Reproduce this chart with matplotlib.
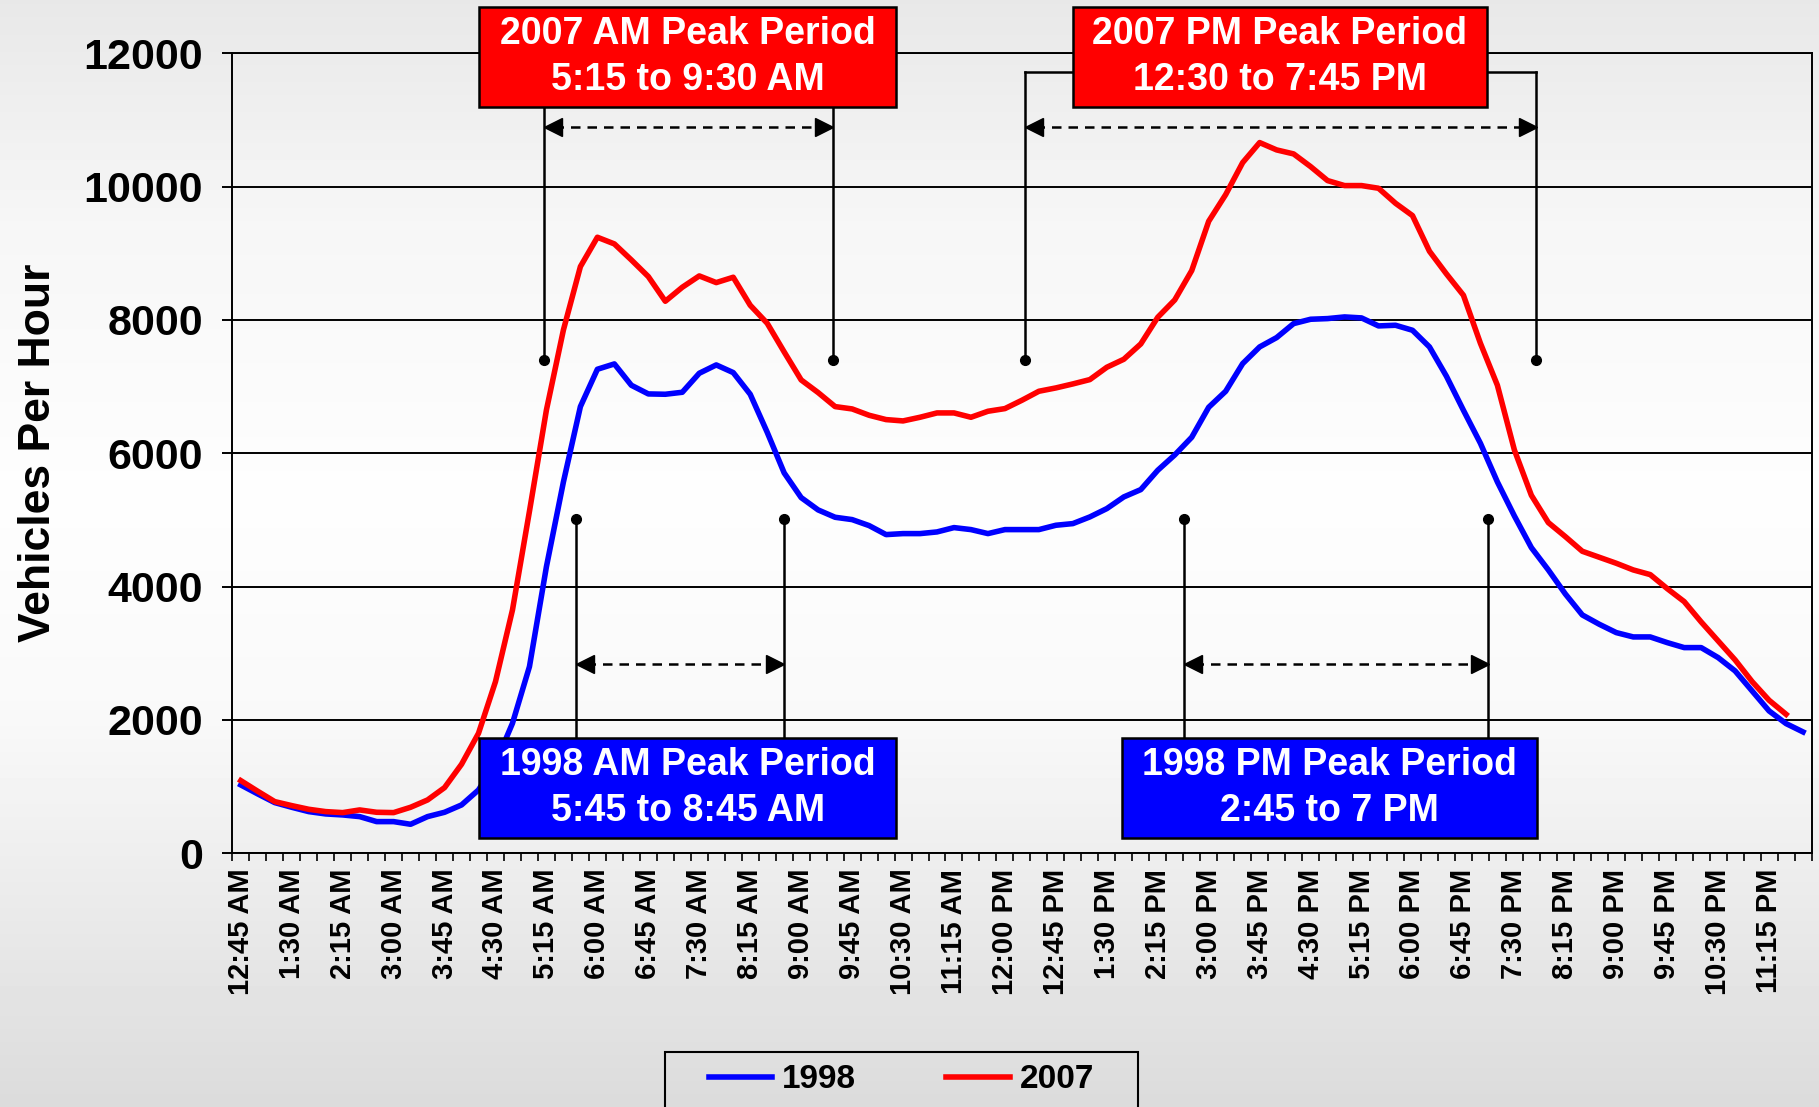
import matplotlib.pyplot as plt
from matplotlib.patches import Rectangle
import numpy as np

plt.rcParams['font.family'] = ['Liberation Sans', 'DejaVu Sans']
plt.rcParams['font.weight'] = 'bold'
plt.rcParams['axes.labelweight'] = 'bold'

# vehicles per hour in 15 minute slots, slot 0 = 12:45 AM, last slot = 11:45 PM
vph_1998 = [1025, 890, 760, 690, 625, 590, 575, 550, 475, 475,
            435, 550, 615, 725, 950, 1350, 1950, 2800, 4300, 5570,
            6700, 7260, 7340, 7020, 6890, 6885, 6915, 7200, 7325, 7210,
            6885, 6315, 5705, 5335, 5150, 5040, 5005, 4915, 4780, 4795,
            4795, 4820, 4885, 4855, 4795, 4855, 4855, 4855, 4920, 4945,
            5045, 5170, 5345, 5455, 5745, 5975, 6240, 6690, 6930, 7345,
            7595, 7735, 7945, 8010, 8020, 8045, 8030, 7910, 7920, 7845,
            7595, 7155, 6645, 6150, 5570, 5060, 4585, 4250, 3890, 3575,
            3435, 3310, 3245, 3245, 3160, 3085, 3085, 2935, 2735, 2435,
            2135, 1945, 1820]
vph_2007 = [1090, 930, 775, 715, 660, 625, 610, 650, 615, 610,
            690, 800, 985, 1335, 1800, 2575, 3650, 5130, 6650, 7850,
            8800, 9240, 9140, 8900, 8650, 8280, 8490, 8660, 8560, 8640,
            8220, 7950, 7520, 7100, 6910, 6700, 6665, 6570, 6505, 6485,
            6540, 6605, 6605, 6540, 6630, 6670, 6795, 6930, 6980, 7040,
            7105, 7290, 7410, 7640, 8040, 8300, 8740, 9480, 9880, 10360,
            10660, 10550, 10490, 10300, 10090, 10015, 10015, 9975, 9750, 9565,
            9030, 8690, 8370, 7650, 7020, 6050, 5370, 4960, 4750, 4530,
            4440, 4350, 4250, 4180, 3970, 3775, 3470, 3185, 2900, 2575,
            2295, 2085]

tick_labels = ["12:45 AM", "1:30 AM", "2:15 AM", "3:00 AM", "3:45 AM", "4:30 AM",
               "5:15 AM", "6:00 AM", "6:45 AM", "7:30 AM", "8:15 AM", "9:00 AM",
               "9:45 AM", "10:30 AM", "11:15 AM", "12:00 PM", "12:45 PM", "1:30 PM",
               "2:15 PM", "3:00 PM", "3:45 PM", "4:30 PM", "5:15 PM", "6:00 PM",
               "6:45 PM", "7:30 PM", "8:15 PM", "9:00 PM", "9:45 PM", "10:30 PM",
               "11:15 PM"]
y_ticks = [0, 2000, 4000, 6000, 8000, 10000, 12000]

box_texts = {'am07': "2007 AM Peak Period\n5:15 to 9:30 AM",
             'pm07': "2007 PM Peak Period\n12:30 to 7:45 PM",
             'am98': "1998 AM Peak Period\n5:45 to 8:45 AM",
             'pm98': "1998 PM Peak Period\n2:45 to 7 PM"}


def peak_bracket(ax, x0, x1, y_dot, y_end, y_arrow):
    for x in (x0, x1):
        ax.plot([x, x], [y_dot, y_end], color='black', lw=1.8, clip_on=False, zorder=4)
        ax.plot(x, y_dot, 'o', color='black', ms=7, clip_on=False, zorder=4)
    ax.plot([x0 + 0.6, x1 - 0.6], [y_arrow, y_arrow], color='black', lw=1.8,
            ls=(0, (3.8, 2.8)), zorder=4)
    ax.plot(x0 + 0.52, y_arrow, marker='<', color='black', ms=13, zorder=4)
    ax.plot(x1 - 0.52, y_arrow, marker='>', color='black', ms=13, zorder=4)


def peak_box(ax, x0, x1, y0, y1, color, text):
    ax.add_patch(Rectangle((x0, y0), x1 - x0, y1 - y0, facecolor=color,
                           edgecolor='black', lw=1.8, clip_on=False, zorder=6))
    ax.text((x0 + x1) / 2, (y0 + y1) / 2, text, color='white', fontsize=27,
            ha='center', va='center', linespacing=1.36, zorder=7)


fig = plt.figure(figsize=(18.19, 11.07), dpi=100)

# grey - white - grey background
bg = fig.add_axes([0, 0, 1, 1], zorder=-10)
shade = np.interp(np.linspace(0, 1, 256), [0, 0.2, 0.45, 0.65, 0.8, 1.0],
                  [0.91, 0.965, 0.995, 0.975, 0.925, 0.86])
bg.imshow(shade[:, None], cmap='gray', vmin=0, vmax=1, aspect='auto', extent=[0, 1, 0, 1])
bg.axis('off')

ax = fig.add_axes([0.1277, 0.2292, 0.8682, 0.7227])
ax.set_facecolor('none')

slots = np.arange(len(vph_1998))
l98, = ax.plot(slots, vph_1998, color='#0000FF', lw=4, solid_joinstyle='round', zorder=3)
l07, = ax.plot(np.arange(len(vph_2007)), vph_2007, color='#FF0000', lw=4,
               solid_joinstyle='round', zorder=3)

ax.set_xlim(-0.5, len(slots) - 0.5)
ax.set_ylim(0, 12000)
ax.set_yticks(y_ticks)
ax.set_yticklabels([str(v) for v in y_ticks])
ax.tick_params(axis='y', labelsize=31, length=7, width=1.4, pad=14)
ax.grid(axis='y', color='black', lw=1.4)
ax.set_axisbelow(True)

ax.set_xticks(np.arange(-0.5, len(slots), 1.0))
ax.set_xticklabels([])
ax.tick_params(axis='x', which='major', length=6, width=1.2)
ax.set_xticks(slots[::3], tick_labels, minor=True)
ax.tick_params(axis='x', which='minor', length=0, labelsize=21, rotation=90, pad=11)

for s in ax.spines.values():
    s.set_linewidth(1.4)
    s.set_color('black')

ax.set_ylabel('Vehicles Per Hour', fontsize=32, fontweight='bold', va='center')
ax.yaxis.set_label_coords(-0.123, 0.5)

# peak period call-outs
peak_bracket(ax, 17.87, 34.85, 7400, 11195, 10890)
peak_bracket(ax, 46.2, 76.3, 7400, 11720, 10890)
ax.plot([46.2, 48.98], [11720, 11720], color='black', lw=1.8, clip_on=False, zorder=4)
ax.plot([73.4, 76.3], [11720, 11720], color='black', lw=1.8, clip_on=False, zorder=4)
peak_bracket(ax, 19.75, 32.0, 5010, 1730, 2840)
peak_bracket(ax, 55.55, 73.47, 5010, 1730, 2840)

peak_box(ax, 14.04, 38.6, 11195, 12695, '#FF0000', box_texts['am07'])
peak_box(ax, 48.98, 73.4, 11195, 12695, '#FF0000', box_texts['pm07'])
peak_box(ax, 14.04, 38.6, 230, 1730, '#0000FF', box_texts['am98'])
peak_box(ax, 51.87, 76.32, 230, 1730, '#0000FF', box_texts['pm98'])

fig.legend([l98, l07], ['1998', '2007'], loc='center', bbox_to_anchor=(0.4956, 0.0244),
           ncol=2, frameon=False, fontsize=24, handlelength=1.9, handletextpad=0.3,
           columnspacing=2.7)
fig.add_artist(Rectangle((0.3656, -0.05), 0.26, 0.0997, transform=fig.transFigure,
                         fill=False, edgecolor='black', lw=1.5, zorder=5))

plt.savefig('out.png', dpi=100)
